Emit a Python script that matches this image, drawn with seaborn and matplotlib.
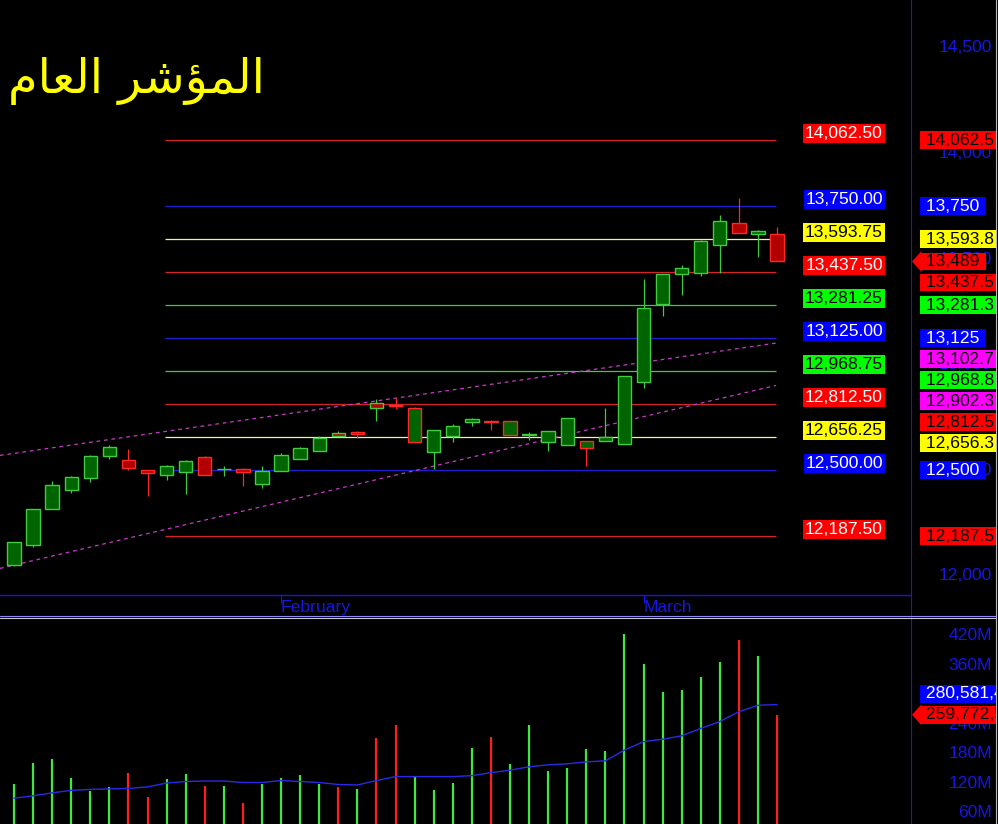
import numpy as np
import matplotlib
matplotlib.use('Agg')
import matplotlib.pyplot as plt
import matplotlib.transforms as mtransforms
from matplotlib.lines import Line2D
import seaborn as sns

# ---- data ----
opens = [12054, 12146, 12318, 12408, 12463, 12567, 12550, 12500, 12479, 12494,
         12565, 12505, 12508, 12435, 12498, 12553, 12594, 12662, 12680, 12797,
         12811, 12797, 12586, 12662, 12728, 12735, 12732, 12669, 12634, 12620,
         12637, 12639, 12626, 12920, 13287, 13431, 13435, 13568, 13673, 13620, 13617]
highs = [12162, 12319, 12448, 12472, 12571, 12618, 12599, 12502, 12524, 12548,
         12566, 12522, 12509, 12519, 12580, 12613, 12665, 12686, 12686, 12836,
         12844, 12798, 12692, 12721, 12746, 12737, 12733, 12681, 12688, 12750,
         12638, 12793, 12948, 13405, 13431, 13473, 13589, 13711, 13789, 13640, 13651]
lows = [12047, 12135, 12316, 12394, 12444, 12552, 12500, 12378, 12456, 12386,
        12476, 12473, 12424, 12418, 12496, 12552, 12590, 12661, 12655, 12733,
        12789, 12635, 12508, 12634, 12709, 12689, 12666, 12642, 12594, 12619,
        12523, 12638, 12625, 12891, 13233, 13331, 13419, 13435, 13622, 13509, 13489]
closes = [12162, 12318, 12432, 12470, 12569, 12612, 12511, 12487, 12522, 12546,
          12478, 12507, 12494, 12498, 12574, 12605, 12655, 12678, 12672, 12817,
          12806, 12636, 12692, 12711, 12744, 12727, 12667, 12671, 12688, 12749,
          12605, 12659, 12948, 13270, 13431, 13459, 13588, 13682, 13623, 13631, 13489]
# day colour used for candle fill and volume bar
day_colour = list('ggggggrrggrgrggggrgrrggggrggggggggggggrgr')

volume_m = [119, 162, 170, 131, 105, 113, 141, 93, 129, 139,
            115, 115.5, 81, 118, 131, 137, 119, 113, 109, 212,
            238, 135, 107, 121, 192, 215, 160, 239, 145, 151,
            190, 186, 425, 363, 306, 310, 337, 368, 412, 379, 259.77]
volume_ma_m = [90, 95, 101, 106, 108, 109, 110, 113, 121, 124,
               125, 125, 122, 122, 126, 124, 122, 118, 117, 126,
               134, 134, 134, 134, 136, 142, 147, 154, 158, 160,
               164, 166, 188, 205, 210, 217, 232, 246, 266, 279, 280.58]
last_volume = 259772536
last_volume_ma = 280581412

levels = [14062.5, 13750.0, 13593.75, 13437.5, 13281.25, 13125.0,
          12968.75, 12812.5, 12656.25, 12500.0, 12187.5]
level_kind = ['red', 'blue', 'yellow', 'red', 'green', 'blue',
              'green', 'red', 'yellow', 'blue', 'red']

channel_x = [-0.734, 39.95]
channel_upper = [12571, 13102.7]
channel_lower = [12036, 12902.3]

month_pos = [14, 33]
month_names = ['February', 'March']
price_ticks = [12000, 12500, 13000, 13500, 14000, 14500]
volume_ticks = [60, 120, 180, 240, 300, 360, 420]

# "المؤشر العام" written with Arabic presentation forms in visual order
title = '\ufee1\ufe8e\ufecc\ufedf\ufe8d \ufeae\ufeb7\ufe86\ufee4\ufedf\ufe8d'

# ---- styling ----
sns.set_theme(style='dark', rc={'axes.facecolor': 'black', 'figure.facecolor': 'black',
                                'savefig.facecolor': 'black', 'axes.edgecolor': 'black'})
plt.rcParams['font.family'] = ['Liberation Sans', 'DejaVu Sans']

line_col = {'red': '#d42424', 'blue': '#2020d0', 'yellow': '#f4f48c', 'green': '#38d038'}
box_col = {'red': '#ff0000', 'blue': '#0000ff', 'yellow': '#ffff00', 'green': '#00ff00',
           'magenta': '#ff00ff'}
axis_blue = '#1616e6'
up_edge, up_fill = '#40cc40', '#006400'
dn_edge, dn_fill = '#ff2828', '#b00000'
FS = 12.6

W, H = 998, 824
fig = plt.figure(figsize=(W / 100, H / 100), dpi=100)


def px_rect(x0, y0, x1, y1):
    return [x0 / W, 1 - y1 / H, (x1 - x0) / W, (y1 - y0) / H]


ax = fig.add_axes(px_rect(0, 0, 910, 595))
ax_r = fig.add_axes(px_rect(910, 0, 996, 595))
ax_v = fig.add_axes(px_rect(0, 618, 910, 824))
ax_vr = fig.add_axes(px_rect(910, 618, 996, 824))

xlim = (-0.734, 46.97)
price_lim = (11910, 14727)
vol_lim = (37.6, 456.6)
units_per_px = (price_lim[1] - price_lim[0]) / 595
vol_per_px = (vol_lim[1] - vol_lim[0]) / 206

idx = np.arange(len(opens))
o, h, l, c = map(np.array, (opens, highs, lows, closes))

# ---- price panel ----
ax.hlines(levels, 7.9, 39.95, colors=[line_col[k] for k in level_kind], lw=0.9, zorder=1)
for ys in (channel_upper, channel_lower):
    ax.plot(channel_x, ys, color='#c43cc4', lw=0.9, ls=(0, (3, 3)), zorder=2)

edges = np.where(c >= o, up_edge, dn_edge)
fills = [up_fill if d == 'g' else dn_fill for d in day_colour]
ax.vlines(idx, l, h, colors=edges, lw=0.9, zorder=3)
ax.bar(idx, np.abs(c - o), bottom=np.minimum(o, c), width=0.7, color=fills,
       edgecolor=edges, linewidth=1.0, zorder=4)

blend = mtransforms.blended_transform_factory(ax.transAxes, ax.transData)
for lv, k in zip(levels, level_kind):
    tc = 'black' if k in ('yellow', 'green') else 'white'
    ax.text(844 / 910, lv + 7 * units_per_px, f'{lv:,.2f}', transform=blend,
            ha='center', va='center', fontsize=FS, color=tc, zorder=6,
            bbox=dict(boxstyle='square,pad=0.1', fc=box_col[k], ec='none'))

ax.set_xlim(*xlim)
ax.set_ylim(*price_lim)
ax.set_yticks([])
ax.set_xticks(month_pos)
ax.set_xticklabels(month_names, color=axis_blue, fontsize=FS)
for lbl in ax.get_xticklabels():
    lbl.set_ha('left')
ax.tick_params(axis='x', direction='out', length=6, width=0.8, color=axis_blue,
               pad=-2.5, bottom=True)
for s in ax.spines.values():
    s.set_visible(False)
ax.spines['bottom'].set_visible(True)
ax.spines['bottom'].set_color(axis_blue)
ax.spines['bottom'].set_linewidth(1.0)
ax.grid(False)

fig.text(8 / W, 1 - 81 / H, title, fontsize=34.5, color='#ffff00',
         family='DejaVu Sans', ha='left', va='center')


def fmt_price(v):
    v = np.floor(v * 10 + 0.5) / 10
    return f'{v:,.0f}' if v == int(v) else f'{v:,.1f}'


def side_axis(a, lim, ticks, tick_fmt, labels, sep, arrow_h):
    a.set_xlim(910, 996)
    a.set_ylim(*lim)
    a.axis('off')
    for t in ticks:
        a.text(992, t, tick_fmt(t), ha='right', va='center', fontsize=FS,
               color=axis_blue, clip_on=True, zorder=1)
    # stack boxes away from the last-value label so none overlap
    labels = sorted(labels, key=lambda r: -r[0])
    k = [i for i, r in enumerate(labels) if r[3]][0]
    pos = [r[0] for r in labels]
    for j in range(k + 1, len(labels)):
        pos[j] = min(pos[j], pos[j - 1] - sep)
    for j in range(k - 1, -1, -1):
        pos[j] = max(pos[j], pos[j + 1] + sep)
    for y, (val, txt, kind, is_last) in zip(pos, labels):
        tc = 'white' if kind == 'blue' else 'black'
        a.text(921, y, ' ' + txt + ' ', ha='left', va='center', fontsize=FS, color=tc,
               clip_on=True, zorder=3,
               bbox=dict(boxstyle='square,pad=0.08', fc=box_col[kind], ec='none'))
        if is_last:
            a.fill([912, 921.5, 921.5], [y, y + arrow_h, y - arrow_h],
                   color=box_col[kind], lw=0, zorder=3)


price_labels = [(lv, fmt_price(lv), k, False) for lv, k in zip(levels, level_kind)]
price_labels += [(closes[-1], fmt_price(closes[-1]), 'red', True),
                 (channel_upper[-1], fmt_price(channel_upper[-1]), 'magenta', False),
                 (channel_lower[-1], fmt_price(channel_lower[-1]), 'magenta', False)]
side_axis(ax_r, price_lim, price_ticks, lambda t: f'{t:,}', price_labels,
          21 * units_per_px, 10.5 * units_per_px)

# ---- volume panel ----
vcols = ['#3ee83e' if d == 'g' else '#ff1e1e' for d in day_colour]
ax_v.vlines(idx, 0, volume_m, colors=vcols, lw=1.6, zorder=2)
sns.lineplot(x=idx, y=volume_ma_m, ax=ax_v, color='#2a2ae6', lw=1.0, zorder=3)
ax_v.set_xlim(*xlim)
ax_v.set_ylim(*vol_lim)
ax_v.axis('off')

vol_labels = [(last_volume_ma / 1e6, f'{last_volume_ma:,}', 'blue', False),
              (last_volume / 1e6, f'{last_volume:,}', 'red', True)]
side_axis(ax_vr, vol_lim, volume_ticks, lambda t: f'{t}M', vol_labels,
          21 * vol_per_px, 10.5 * vol_per_px)

# frame lines
fig.add_artist(Line2D([910.5 / W] * 2, [0, 1], color=axis_blue, lw=0.8))
fig.add_artist(Line2D([0, 996 / W], [1 - 615.5 / H] * 2, color='#8c8cff', lw=0.8))
fig.add_artist(Line2D([0, 996 / W], [1 - 617.5 / H] * 2, color='#c8c8c8', lw=0.8))
fig.add_artist(Line2D([995.5 / W] * 2, [0, 1], color='#bbbbbb', lw=0.8))

fig.savefig('out.png', dpi=100, facecolor='black')
